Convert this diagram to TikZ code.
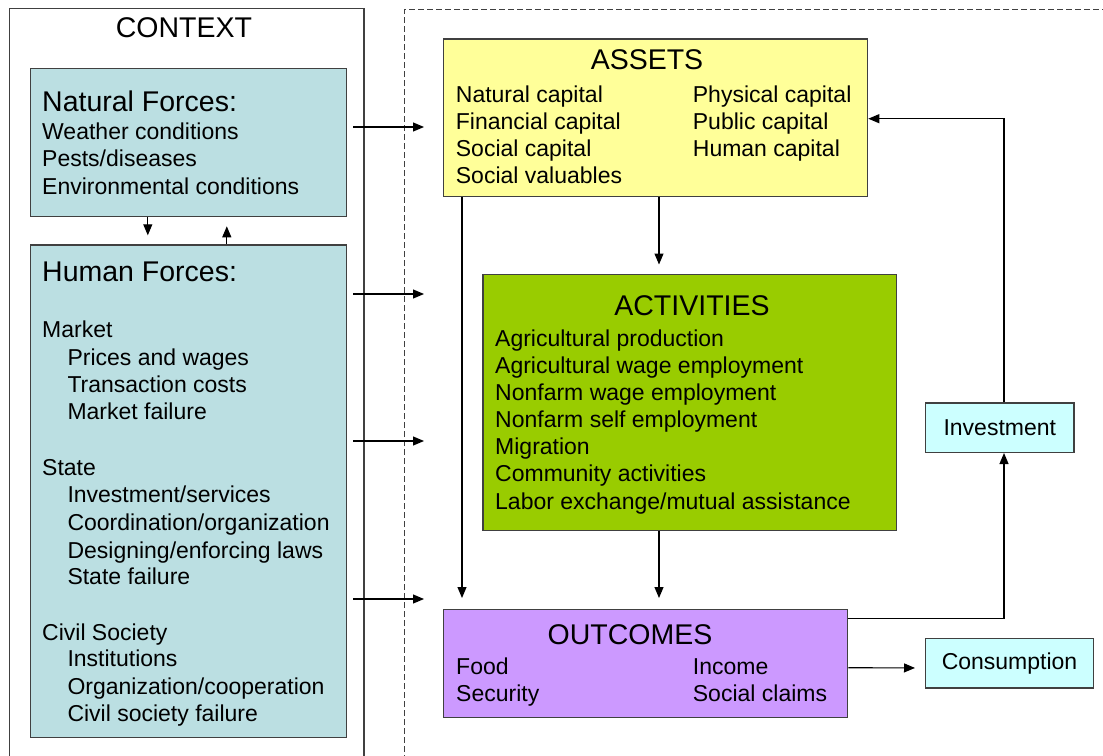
\documentclass[tikz,border=0pt]{standalone}
\usepackage{fontspec}
\setmainfont{Liberation Sans}
\usetikzlibrary{arrows.meta,calc}
\definecolor{natfill}{HTML}{BBDFE2}
\definecolor{assetfill}{HTML}{FFFF99}
\definecolor{actfill}{HTML}{99CC00}
\definecolor{outfill}{HTML}{CC99FF}
\definecolor{cyanfill}{HTML}{CCFFFF}
\definecolor{edge}{HTML}{404040}
\tikzset{
  box/.style={draw=edge, line width=1.3pt, anchor=north west, inner sep=0pt},
  txt/.style={inner sep=0pt, anchor=base west, font=\fontsize{23}{27}\selectfont},
  ttl/.style={inner sep=0pt, anchor=base, font=\fontsize{28.5}{32}\selectfont},
  htl/.style={inner sep=0pt, anchor=base west, font=\fontsize{28.5}{32}\selectfont},
  arr/.style={draw=black, line width=1.1pt, -{Triangle[length=11pt,width=9pt]}},
}
\begin{document}
\begin{tikzpicture}[x=1pt,y=-1pt]
\useasboundingbox (0,0) rectangle (1103,755);
\clip (0,0) rectangle (1103,755);
\fill[white] (0,0) rectangle (1103,755);
% context frame and dashed frame
\draw[draw=edge, line width=1.3pt] (9.5,770) -- (9.5,8.5) -- (364,8.5) -- (364,770);
\draw[draw=edge, line width=1.1pt, dash pattern=on 6pt off 3pt] (404.5,770) -- (404.5,9.5) -- (1120,9.5);
\node[ttl] (ctx) at (184,37.5) {CONTEXT};
% natural forces
\node[box, fill=natfill, minimum width=316pt, minimum height=148pt] (nat) at (29.5,67.5) {};
\node[htl] (natt) at (42,111) {Natural Forces:};
\node[txt] (n1) at (42,139.3) {Weather conditions};
\node[txt] (n2) at (42,166.8) {Pests/diseases};
\node[txt] (n3) at (42,194.3) {Environmental conditions};
% human forces
\node[box, fill=natfill, minimum width=316pt, minimum height=492.5pt] (hum) at (29.5,244.3) {};
\node[htl] (humt) at (42,281) {Human Forces:};
\node[txt] (h1) at (42,337.3) {Market};
\node[txt] (h2) at (67.3,365) {Prices and wages};
\node[txt] (h3) at (67.3,392.3) {Transaction costs};
\node[txt] (h4) at (67.3,419.3) {Market failure};
\node[txt] (h5) at (42,475) {State};
\node[txt] (h6) at (67.3,502.3) {Investment/services};
\node[txt] (h7) at (67.3,530.5) {Coordination/organization};
\node[txt] (h8) at (67.3,558) {Designing/enforcing laws};
\node[txt] (h9) at (67.3,584.5) {State failure};
\node[txt] (h10) at (42,640) {Civil Society};
\node[txt] (h11) at (67.3,666.7) {Institutions};
\node[txt] (h12) at (67.3,694.3) {Organization/cooperation};
\node[txt] (h13) at (67.3,721.7) {Civil society failure};
% arrows between natural and human
\draw[arr] ([xshift=118.3pt]nat.south west) -- ([xshift=118.3pt,yshift=9pt]hum.north west);
\draw[arr] ([xshift=197.3pt]hum.north west) -- ([xshift=197.3pt,yshift=-9.5pt]nat.south west);
% assets
\node[box, fill=assetfill, minimum width=424pt, minimum height=157.5pt] (assets) at (443,38.3) {};
\node[ttl] (asst) at (647,69.3) {ASSETS};
\node[txt] (a1) at (455.7,102) {Natural capital};
\node[txt] (a2) at (455.7,129.5) {Financial capital};
\node[txt] (a3) at (455.7,156.7) {Social capital};
\node[txt] (a4) at (455.7,183.5) {Social valuables};
\node[txt] (a5) at (692.7,102) {Physical capital};
\node[txt] (a6) at (692.7,129.5) {Public capital};
\node[txt] (a7) at (692.7,156.7) {Human capital};
% activities
\node[box, fill=actfill, minimum width=413.5pt, minimum height=255.5pt] (act) at (482.3,274) {};
\node[ttl] (actt) at (692,315) {ACTIVITIES};
\node[txt] (c1) at (495,346) {Agricultural production};
\node[txt] (c2) at (495,373.3) {Agricultural wage employment};
\node[txt] (c3) at (495,400.3) {Nonfarm wage employment};
\node[txt] (c4) at (495,427.5) {Nonfarm self employment};
\node[txt] (c5) at (495,454.5) {Migration};
\node[txt] (c6) at (495,481.7) {Community activities};
\node[txt] (c7) at (495,509.3) {Labor exchange/mutual assistance};
% outcomes
\node[box, fill=outfill, minimum width=404pt, minimum height=107.5pt] (outc) at (443,609) {};
\node[ttl] (outt) at (630,644) {OUTCOMES};
\node[txt] (o1) at (456,674) {Food};
\node[txt] (o2) at (456,701.7) {Security};
\node[txt] (o3) at (692.7,674) {Income};
\node[txt] (o4) at (692.7,701.7) {Social claims};
% investment & consumption
\node[box, fill=cyanfill, minimum width=148.3pt, minimum height=49.4pt] (inv) at (925,402.3) {};
\node[txt, anchor=center] (invt) at (inv.center) {Investment};
\node[box, fill=cyanfill, minimum width=167.7pt, minimum height=49.6pt] (cons) at (925,637.7) {};
\node[txt, anchor=center] (const) at (cons.center) {Consumption};
% context arrows
\coordinate (s1) at (353,127); \coordinate (e1) at (424,127);
\coordinate (s2) at (353,294); \coordinate (e2) at (424,294);
\coordinate (s3) at (353,441); \coordinate (e3) at (424,441);
\coordinate (s4) at (353,599); \coordinate (e4) at (424,599);
\draw[arr] (s1) -- (e1);
\draw[arr] (s2) -- (e2);
\draw[arr] (s3) -- (e3);
\draw[arr] (s4) -- (e4);
% internal arrows
\draw[arr] ([xshift=19pt]assets.south west) -- ([xshift=19pt,yshift=11pt]outc.north west);
\draw[arr] ([xshift=216pt]assets.south west) -- ([xshift=176.7pt,yshift=9.5pt]act.north west);
\draw[arr] ([xshift=176.7pt]act.south west) -- ([xshift=216pt,yshift=11pt]outc.north west);
\draw[arr] ([yshift=-9.3pt]outc.north east) -| ([xshift=79pt]inv.south west);
\draw[arr] ([xshift=79pt]inv.north west) |- ([yshift=-1pt]assets.east);
\draw[arr] ([yshift=-4.3pt]outc.east) -- ([xshift=-10pt,yshift=-4.8pt]cons.west);
\end{tikzpicture}
\end{document}
